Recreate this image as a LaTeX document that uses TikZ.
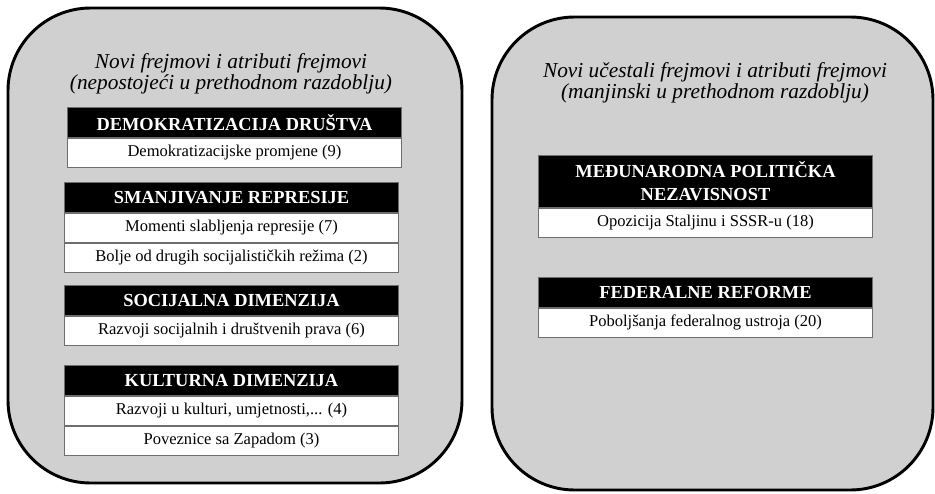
\documentclass[tikz,border=0pt]{standalone}
\usepackage{fontspec}
\setmainfont{Liberation Serif}
\usetikzlibrary{positioning}
\definecolor{panelgray}{HTML}{D0D0D0}
\definecolor{rowline}{HTML}{6E6E6E}
\tikzset{
  panel/.style={draw=black,line width=2.2pt,fill=panelgray,rounded corners=62pt},
  ttl/.style={align=center,font=\fontsize{16}{15.5}\selectfont\itshape},
  hdr/.style={fill=black,text=white,draw=rowline,line width=0.6pt,minimum width=251pt,
    minimum height=22.5pt,inner sep=0pt,align=center,font=\fontsize{13.8}{17}\selectfont\bfseries},
  row/.style={fill=white,draw=rowline,line width=0.6pt,minimum width=251pt,
    minimum height=21.75pt,inner sep=0pt,font=\fontsize{12.4}{14}\selectfont},
}
\begin{document}
\begin{tikzpicture}[x=0.75pt,y=-0.75pt]
\useasboundingbox (0,0) rectangle (935,493);
\draw[panel] (8,8) rectangle (462,483);
\draw[panel] (492,17) rectangle (933,490);

% lijevi panel
\node[ttl] (tl) at (231,74) {Novi frejmovi i atributi frejmovi\\(nepostojeći u prethodnom razdoblju)};

\node[hdr,anchor=north] (dem) at (234.5,107) {DEMOKRATIZACIJA DRUŠTVA};
\node[row,below=0pt of dem] (dem1) {Demokratizacijske promjene (9)};

\node[hdr,anchor=north] (rep) at (231.5,182) {SMANJIVANJE REPRESIJE};
\node[row,below=0pt of rep] (rep1) {Momenti slabljenja represije (7)};
\node[row,below=0pt of rep1] (rep2) {Bolje od drugih socijalističkih režima (2)};

\node[hdr,anchor=north] (soc) at (231.5,285) {SOCIJALNA DIMENZIJA};
\node[row,below=0pt of soc] (soc1) {Razvoji socijalnih i društvenih prava (6)};

\node[hdr,anchor=north] (kul) at (231.5,365) {KULTURNA DIMENZIJA};
\node[row,below=0pt of kul] (kul1) {Razvoji u kulturi, umjetnosti,... (4)};
\node[row,below=0pt of kul1] (kul2) {Poveznice sa Zapadom (3)};

% desni panel
\node[ttl] (tr) at (715,83) {Novi učestali frejmovi i atributi frejmovi\\(manjinski u prethodnom razdoblju)};

\node[hdr,anchor=north,minimum height=39pt] (med) at (705.5,155) {MEĐUNARODNA POLITIČKA\\NEZAVISNOST};
\node[row,below=0pt of med] (med1) {Opozicija Staljinu i SSSR-u (18)};

\node[hdr,anchor=north] (fed) at (705.5,277) {FEDERALNE REFORME};
\node[row,below=0pt of fed] (fed1) {Poboljšanja federalnog ustroja (20)};
\end{tikzpicture}
\end{document}
